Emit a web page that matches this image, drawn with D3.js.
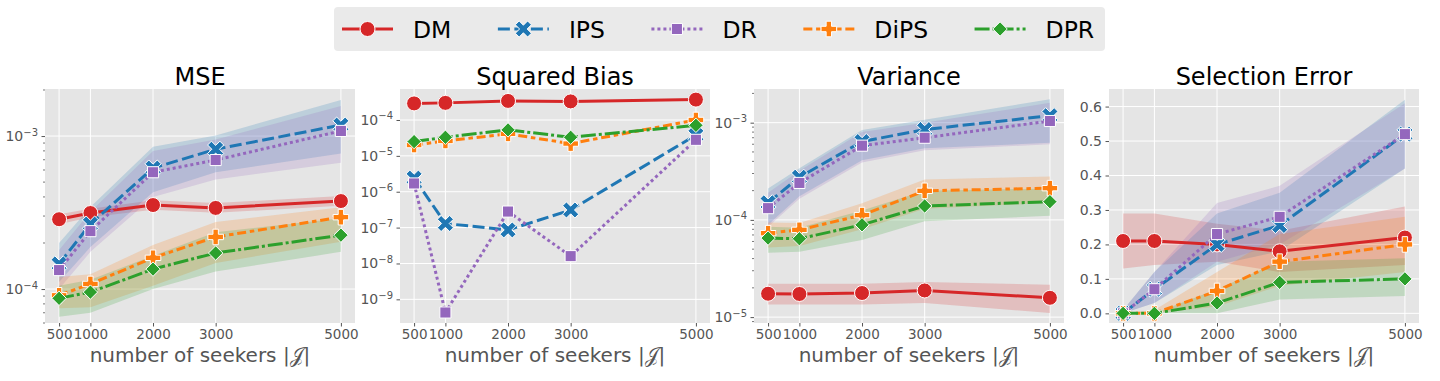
<!DOCTYPE html>
<html>
<head>
<meta charset="utf-8">
<title>Estimator comparison</title>
<script src="https://cdn.jsdelivr.net/npm/d3@7"></script>
<style>
  body { margin: 0; background: #fff; }
  svg { display: block; font-family: "DejaVu Sans", sans-serif; }
</style>
</head>
<body>
<svg id="chart" width="1440" height="381"></svg>
<script>
// seekers on the x axis
const seekers = [500, 1000, 2000, 3000, 5000];
const methods = ["DM", "IPS", "DR", "DiPS", "DPR"];
const colors = ["#d62728", "#1f77b4", "#9467bd", "#ff7f0e", "#2ca02c"];
const shapes = ["circle", "x", "square", "plus", "diamond"];

// MSE (rows follow methods order)
const mseMean = [
  [2.86e-4, 3.14e-4, 3.54e-4, 3.39e-4, 3.76e-4],
  [1.46e-4, 2.66e-4, 6.18e-4, 8.2e-4, 1.18e-3],
  [1.33e-4, 2.39e-4, 5.8e-4, 6.97e-4, 1.08e-3],
  [9.1e-5, 1.08e-4, 1.6e-4, 2.19e-4, 2.95e-4],
  [8.7e-5, 9.55e-5, 1.35e-4, 1.72e-4, 2.25e-4]
];
const mseLo = [
  [2.65e-4, 2.95e-4, 3.3e-4, 3.15e-4, 3.5e-4],
  [1.11e-4, 1.88e-4, 4.3e-4, 5.8e-4, 7.7e-4],
  [1.0e-4, 1.75e-4, 4.0e-4, 5.2e-4, 6.7e-4],
  [7.5e-5, 7.6e-5, 1.05e-4, 1.48e-4, 2.04e-4],
  [6.6e-5, 7.0e-5, 1.0e-4, 1.3e-4, 1.75e-4]
];
const mseHi = [
  [3.08e-4, 3.35e-4, 3.8e-4, 3.65e-4, 4.05e-4],
  [2.0e-4, 3.44e-4, 8.5e-4, 1.01e-3, 1.72e-3],
  [1.8e-4, 3.2e-4, 8.0e-4, 9.5e-4, 1.57e-3],
  [1.2e-4, 1.25e-4, 1.94e-4, 2.74e-4, 3.43e-4],
  [1.05e-4, 1.15e-4, 1.65e-4, 2.35e-4, 2.9e-4]
];

// squared bias (no bands)
const biasMean = [
  [2.9e-4, 3.0e-4, 3.4e-4, 3.3e-4, 3.7e-4],
  [2.4e-6, 1.3e-7, 8.6e-8, 3.1e-7, 3.8e-5],
  [1.7e-6, 4.3e-10, 2.8e-7, 1.6e-8, 2.8e-5],
  [2.0e-5, 2.6e-5, 4.1e-5, 2.2e-5, 1.0e-4],
  [2.5e-5, 3.3e-5, 5.3e-5, 3.3e-5, 7.1e-5]
];

// variance
const varMean = [
  [1.74e-5, 1.73e-5, 1.77e-5, 1.88e-5, 1.58e-5],
  [1.5e-4, 2.75e-4, 6.4e-4, 8.5e-4, 1.18e-3],
  [1.32e-4, 2.4e-4, 5.8e-4, 7.0e-4, 1.04e-3],
  [7.3e-5, 7.9e-5, 1.12e-4, 1.99e-4, 2.12e-4],
  [6.5e-5, 6.4e-5, 8.9e-5, 1.39e-4, 1.54e-4]
];
const varLo = [
  [1.35e-5, 1.35e-5, 1.35e-5, 1.4e-5, 1.1e-5],
  [8.9e-5, 1.75e-4, 4.1e-4, 5.45e-4, 6.2e-4],
  [8.5e-5, 1.65e-4, 3.9e-4, 5.2e-4, 6.0e-4],
  [5.2e-5, 5.4e-5, 8.0e-5, 1.3e-4, 1.5e-4],
  [4.6e-5, 4.7e-5, 6.2e-5, 9.7e-5, 1.1e-4]
];
const varHi = [
  [2.2e-5, 2.2e-5, 2.2e-5, 2.3e-5, 2.15e-5],
  [2.1e-4, 3.4e-4, 8.4e-4, 1.07e-3, 1.74e-3],
  [1.9e-4, 3.2e-4, 8.0e-4, 1.0e-3, 1.6e-3],
  [9.4e-5, 9.3e-5, 1.48e-4, 2.6e-4, 2.8e-4],
  [8.5e-5, 8.3e-5, 1.25e-4, 2.0e-4, 2.1e-4]
];

// selection error
const selMean = [
  [0.21, 0.21, 0.20, 0.18, 0.22],
  [0.0, 0.07, 0.20, 0.255, 0.52],
  [0.0, 0.07, 0.23, 0.28, 0.52],
  [0.0, 0.0, 0.065, 0.15, 0.20],
  [0.0, 0.0, 0.03, 0.09, 0.10]
];
const selLo = [
  [0.13, 0.14, 0.15, 0.12, 0.14],
  [0.0, 0.03, 0.14, 0.18, 0.42],
  [0.0, 0.03, 0.15, 0.20, 0.42],
  [0.0, 0.0, 0.02, 0.08, 0.12],
  [0.0, 0.0, 0.0, 0.04, 0.05]
];
const selHi = [
  [0.29, 0.29, 0.26, 0.24, 0.31],
  [0.01, 0.12, 0.29, 0.35, 0.62],
  [0.01, 0.12, 0.32, 0.37, 0.61],
  [0.0, 0.01, 0.12, 0.23, 0.28],
  [0.0, 0.0, 0.07, 0.15, 0.16]
];

const panels = [
  { title: "MSE", mean: mseMean, lo: mseLo, hi: mseHi, log: true,
    domain: [6.0e-5, 2.03e-3], ticks: [1e-4, 1e-3], minor: true, left: 45 },
  { title: "Squared Bias", mean: biasMean, lo: null, hi: null, log: true,
    domain: [2.19e-10, 7.31e-4], ticks: [1e-9, 1e-8, 1e-7, 1e-6, 1e-5, 1e-4], minor: false, left: 400 },
  { title: "Variance", mean: varMean, lo: varLo, hi: varHi, log: true,
    domain: [8.7e-6, 2.22e-3], ticks: [1e-5, 1e-4, 1e-3], minor: true, left: 754 },
  { title: "Selection Error", mean: selMean, lo: selLo, hi: selHi, log: false,
    domain: [-0.028, 0.651], ticks: [0, 0.1, 0.2, 0.3, 0.4, 0.5, 0.6], minor: false, left: 1109 }
];

const pw = 310, plotTop = 89, plotBottom = 323;
const lw = 3, ms = 15;
const dashes = [null, [4, 1.5], [1, 1], [3, 1.25, 1.5, 1.25], [5, 1, 1, 1]];
const tickColor = "#555555";

const svg = d3.select("#chart");

function poly(pts) { return "M" + pts.map(p => p[0].toFixed(2) + "," + p[1].toFixed(2)).join("L") + "Z"; }
function plusPts(L, w) {
  return [[-w,-L],[w,-L],[w,-w],[L,-w],[L,w],[w,w],[w,L],[-w,L],[-w,w],[-L,w],[-L,-w],[-w,-w]];
}
function markerPath(shape, s) {
  if (shape === "circle") return d3.symbol(d3.symbolCircle, Math.PI * (s / 2) * (s / 2))();
  if (shape === "square") { const h = s * 0.37; return poly([[-h,-h],[h,-h],[h,h],[-h,h]]); }
  if (shape === "diamond") { const h = s * 0.48; return poly([[0,-h],[h,0],[0,h],[-h,0]]); }
  if (shape === "plus") return poly(plusPts(s * 0.52, s * 0.18));
  // x: plus rotated 45 degrees
  const c = Math.SQRT1_2;
  return poly(plusPts(s * 0.58, s * 0.18).map(([x, y]) => [x * c - y * c, x * c + y * c]));
}

function dashArr(i) { return dashes[i] ? dashes[i].map(d => d * lw).join(",") : null; }

panels.forEach(p => {
  const g = svg.append("g");
  const x = d3.scaleLinear().domain([275, 5225]).range([p.left, p.left + pw]);
  const y = (p.log ? d3.scaleLog() : d3.scaleLinear()).domain(p.domain).range([plotBottom, plotTop]);

  g.append("rect").attr("x", p.left).attr("y", plotTop).attr("width", pw).attr("height", plotBottom - plotTop)
    .attr("fill", "#e5e5e5");

  // grid
  g.append("g").selectAll("line").data(seekers).join("line")
    .attr("x1", d => x(d)).attr("x2", d => x(d)).attr("y1", plotTop).attr("y2", plotBottom)
    .attr("stroke", "#fff").attr("stroke-width", 1);
  g.append("g").selectAll("line").data(p.ticks).join("line")
    .attr("x1", p.left).attr("x2", p.left + pw).attr("y1", d => y(d)).attr("y2", d => y(d))
    .attr("stroke", "#fff").attr("stroke-width", 1);

  // x axis
  const xa = g.append("g").attr("transform", `translate(0,${plotBottom})`)
    .call(d3.axisBottom(x).tickValues(seekers).tickSize(3.5).tickPadding(2.5).tickFormat(d3.format("d")));
  xa.select(".domain").remove();
  xa.selectAll("line").attr("stroke", tickColor);
  xa.selectAll("text").attr("fill", tickColor).attr("font-size", 13.5).attr("font-family", "DejaVu Sans");

  // y axis
  const ya = g.append("g").attr("transform", `translate(${p.left},0)`)
    .call(d3.axisLeft(y).tickValues(p.ticks).tickSize(3.5).tickPadding(3.5)
      .tickFormat(p.log ? d => "" : d3.format(".1f")));
  ya.select(".domain").remove();
  ya.selectAll("line").attr("stroke", tickColor);
  ya.selectAll("text").attr("fill", tickColor).attr("font-size", 14).attr("font-family", "DejaVu Sans");
  if (p.log) {
    ya.selectAll(".tick text").each(function(d) {
      const t = d3.select(this);
      t.text(null);
      t.append("tspan").text("10");
      t.append("tspan").attr("font-size", 10).attr("dy", "-0.55em")
        .text("\u2212" + Math.round(-Math.log10(d)));
    });
    if (p.minor) {
      const minors = [];
      for (let e = -7; e <= -2; e++) for (let m = 2; m <= 9; m++) {
        const v = m * Math.pow(10, e);
        if (v > p.domain[0] && v < p.domain[1]) minors.push(v);
      }
      g.append("g").selectAll("line").data(minors).join("line")
        .attr("x1", p.left - 2).attr("x2", p.left).attr("y1", d => y(d)).attr("y2", d => y(d))
        .attr("stroke", tickColor).attr("stroke-width", 0.8);
    }
  }

  // bands
  if (p.lo) {
    methods.forEach((m, i) => {
      const area = d3.area().x((d, j) => x(seekers[j])).y0((d, j) => y(p.lo[i][j])).y1((d, j) => y(p.hi[i][j]));
      g.append("path").attr("d", area(seekers)).attr("fill", colors[i]).attr("fill-opacity", 0.2);
    });
  }

  // lines + markers
  methods.forEach((m, i) => {
    const line = d3.line().x((d, j) => x(seekers[j])).y(d => y(d));
    g.append("path").attr("d", line(p.mean[i])).attr("fill", "none")
      .attr("stroke", colors[i]).attr("stroke-width", lw).attr("stroke-dasharray", dashArr(i));
    g.append("g").selectAll("path").data(p.mean[i]).join("path")
      .attr("transform", (d, j) => `translate(${x(seekers[j])},${y(d)})`)
      .attr("d", markerPath(shapes[i], ms))
      .attr("fill", colors[i]).attr("stroke", "#fff").attr("stroke-width", 1);
  });

  g.append("text").attr("x", p.left + pw / 2).attr("y", 85).attr("text-anchor", "middle")
    .attr("font-size", 24).attr("fill", "#000").text(p.title);

  g.append("text").attr("x", p.left + pw / 2).attr("y", 362).attr("text-anchor", "middle")
    .attr("font-size", 20).attr("fill", tickColor).text("number of seekers |\u{1D4A5}|");
});

// legend
const leg = svg.append("g");
leg.append("rect").attr("x", 334).attr("y", 7).attr("width", 771).attr("height", 44).attr("rx", 4)
  .attr("fill", "#eaeaea");
let lx = 342;
methods.forEach((m, i) => {
  const ly = 29;
  leg.append("line").attr("x1", lx).attr("x2", lx + 51).attr("y1", ly).attr("y2", ly)
    .attr("stroke", colors[i]).attr("stroke-width", lw).attr("stroke-dasharray", dashArr(i));
  leg.append("path").attr("transform", `translate(${lx + 25.5},${ly})`).attr("d", markerPath(shapes[i], ms))
    .attr("fill", colors[i]).attr("stroke", "#fff").attr("stroke-width", 1);
  const t = leg.append("text").attr("x", lx + 71).attr("y", ly + 8.5).attr("font-size", 23.5)
    .attr("fill", "#000").text(m);
  lx += 71 + t.node().getComputedTextLength() + 46.5;
});
</script>
</body>
</html>
